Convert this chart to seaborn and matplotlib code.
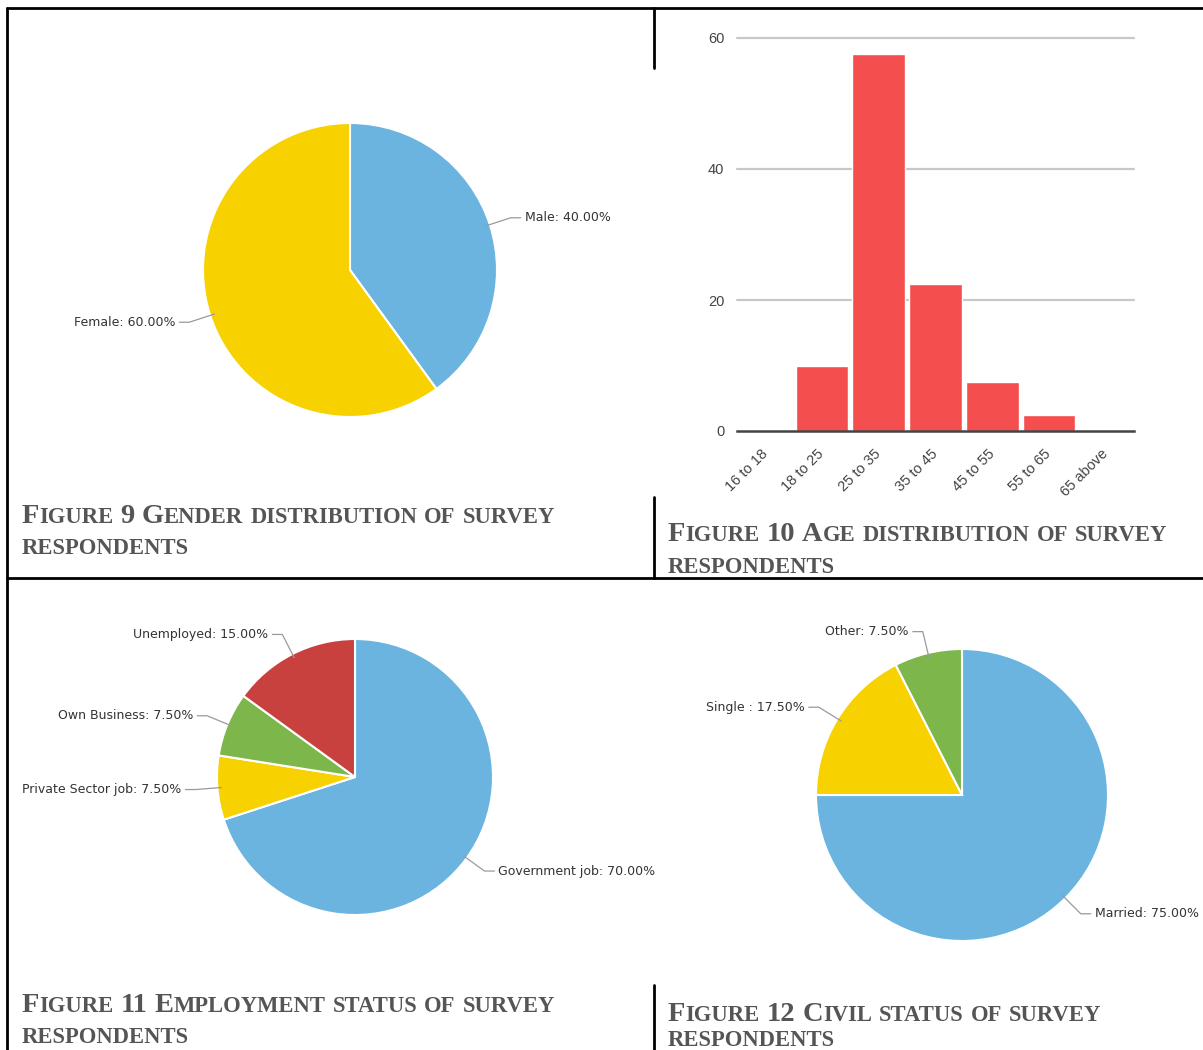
import numpy as np
import pandas as pd
import seaborn as sns
import matplotlib.pyplot as plt
from matplotlib.lines import Line2D

# ---- data ----
gender_labels = ["Male", "Female"]
gender_pct = [40.0, 60.0]

age_groups = ["16 to 18", "18 to 25", "25 to 35", "35 to 45", "45 to 55", "55 to 65", "65 above"]
age_pct = [0, 10, 57.5, 22.5, 7.5, 2.5, 0]
age_ticks = [0, 20, 40, 60]

employ_labels = ["Government job", "Private Sector job", "Own Business", "Unemployed"]
employ_pct = [70.0, 7.5, 7.5, 15.0]

civil_labels = ["Married", "Single ", "Other"]
civil_pct = [75.0, 17.5, 7.5]

captions = [
    "Figure 9 Gender distribution of survey|respondents",
    "Figure 10 Age distribution of survey|respondents",
    "Figure 11 Employment status of survey|respondents",
    "Figure 12 Civil status of survey|respondents",
]

BLUE = "#6BB4E0"
YELLOW = "#F7D100"
GREEN = "#7DB64A"
RED = "#C9413F"
BAR_RED = "#F44E4E"

W, H = 1203, 1050
sns.set_theme(style="white")
plt.rcParams["font.family"] = ["DejaVu Sans"]

fig = plt.figure(figsize=(W / 100, H / 100), dpi=100)


def px_axes(x0, y0, x1, y1):
    # axes from pixel box (top-left origin)
    return fig.add_axes([x0 / W, 1 - y1 / H, (x1 - x0) / W, (y1 - y0) / H])


def draw_pie(cx, cy, r, labels, values, colors):
    ax = px_axes(cx - r, cy - r, cx + r, cy + r)
    wedges, _ = ax.pie(values, colors=colors, startangle=90, counterclock=False,
                       radius=1, wedgeprops=dict(edgecolor="white", linewidth=1.5))
    ax.set_xlim(-1, 1)
    ax.set_ylim(-1, 1)
    ax.axis("off")
    k = 1.0 / r  # data units per pixel
    for w, lab, v in zip(wedges, labels, values):
        ang = np.deg2rad((w.theta1 + w.theta2) / 2)
        c, s = np.cos(ang), np.sin(ang)
        p0 = (0.97 * c, 0.97 * s)
        p1 = ((1 + 22 * k) * c, (1 + 22 * k) * s)
        side = 1 if c >= 0 else -1
        p2 = (p1[0] + side * 10 * k, p1[1])
        ax.add_line(Line2D([p0[0], p1[0], p2[0]], [p0[1], p1[1], p2[1]],
                           color="#9a9a9a", lw=0.9, clip_on=False))
        ax.text(p2[0] + side * 4 * k, p2[1], f"{lab}: {v:.2f}%",
                ha="left" if side > 0 else "right", va="center",
                fontsize=9, color="#333333", clip_on=False)


def smallcaps(x, y, text, big=20.5, small=16.3, color="#555555"):
    renderer = fig.canvas.get_renderer()
    cur = x
    for word in text.split(" "):
        chunks = []
        for ch in word:
            b = ch.isupper() or ch.isdigit()
            if chunks and chunks[-1][1] == b:
                chunks[-1][0] += ch
            else:
                chunks.append([ch, b])
        for txt, b in chunks:
            t = fig.text(cur / W, 1 - y / H, txt.upper(), fontsize=big if b else small,
                         family="Liberation Serif", weight="bold", color=color,
                         ha="left", va="baseline")
            cur = t.get_window_extent(renderer).x1
        cur += 7


# ---- pies ----
draw_pie(350, 270, 147, gender_labels, gender_pct, [BLUE, YELLOW])
draw_pie(355, 777, 138, employ_labels, employ_pct, [BLUE, YELLOW, GREEN, RED])
draw_pie(962, 795, 146, civil_labels, civil_pct, [BLUE, YELLOW, GREEN])

# ---- bar chart ----
ax = px_axes(737, 38, 1134, 431)
sns.barplot(x=age_groups, y=age_pct, color=BAR_RED, saturation=1, width=0.93, ax=ax)
ax.set_ylim(0, 60)
ax.set_yticks(age_ticks)
ax.set_yticklabels([str(t) for t in age_ticks])
for t in age_ticks[1:]:
    ax.axhline(t, color="#c8c8c8", lw=1.6, zorder=0, clip_on=False)
for sp in ["top", "right", "left"]:
    ax.spines[sp].set_visible(False)
ax.spines["bottom"].set_color("#444444")
ax.spines["bottom"].set_linewidth(1.8)
ax.tick_params(axis="y", length=0, pad=9, labelsize=10.5, labelcolor="#444444")
ax.tick_params(axis="x", length=0, pad=15, labelsize=10.5, labelcolor="#444444")
plt.setp(ax.get_xticklabels(), rotation=45, ha="right", va="center", rotation_mode="anchor",
         family="Liberation Sans")
plt.setp(ax.get_yticklabels(), family="Liberation Sans")
ax.set_xlabel("")
ax.set_ylabel("")
ax.set_facecolor("none")

# ---- table borders ----
ov = fig.add_axes([0, 0, 1, 1], facecolor="none")
ov.set_xlim(0, W)
ov.set_ylim(H, 0)
ov.axis("off")
lk = dict(color="black", lw=2)
ov.plot([7, W], [8, 8], **lk)
ov.plot([7, 7], [8, H], **lk)
ov.plot([654, 654], [8, 68], **lk)
ov.plot([654, 654], [497, 578], **lk)
ov.plot([7, W], [578, 578], **lk)
ov.plot([654, 654], [985, H], **lk)

# ---- captions ----
cap_pos = [(22, 523, 554), (668, 541, 573), (22, 1012, 1043), (668, 1021, 1046)]
for cap, (x, y1, y2) in zip(captions, cap_pos):
    l1, l2 = cap.split("|")
    smallcaps(x, y1, l1)
    smallcaps(x, y2, l2)

fig.savefig("out.png", dpi=100)
